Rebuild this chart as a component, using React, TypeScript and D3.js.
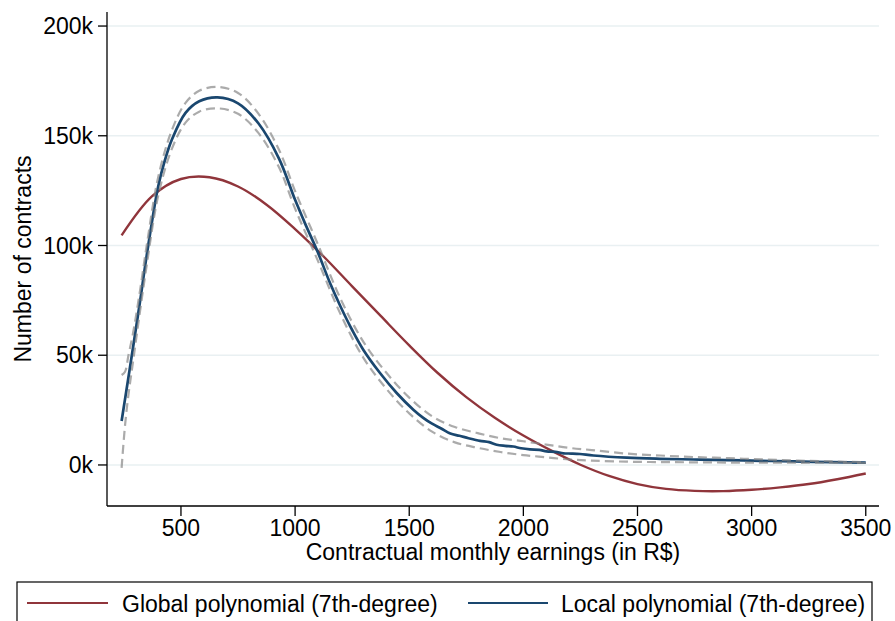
import React from "react";
import * as d3 from "d3";

// ---- Data ----
const globalX = [240, 375, 500, 625, 750, 875, 1000, 1125, 1250, 1375, 1500, 1625, 1750, 1875, 2000, 2125, 2250, 2375, 2500, 2625, 2750, 2875, 3000, 3125, 3250, 3375, 3500];
const globalY = [104.6, 122.6, 130.3, 131.1, 126.9, 118.6, 107.5, 95.0, 81.4, 67.9, 54.5, 41.9, 30.9, 21.5, 13.4, 6.4, 0.1, -5.0, -8.7, -10.9, -11.8, -11.9, -11.3, -10.2, -8.7, -6.5, -3.9];

const localX = [240, 255, 270, 290, 320, 350, 400, 430, 460, 520, 580, 660, 750, 840, 930, 1000, 1043, 1100, 1153, 1200, 1250, 1300, 1372, 1445, 1518, 1560, 1600, 1640, 1680, 1720, 1760, 1810, 1850, 1883, 1920, 1956, 1990, 2029, 2070, 2102, 2140, 2175, 2210, 2248, 2307, 2453, 2599, 2745, 2891, 3037, 3183, 3350, 3500];
const localY = [20, 30, 40, 53.5, 74, 95.5, 126.8, 139, 148.2, 160.4, 165.7, 167.5, 164.8, 155.6, 139.5, 120.8, 110.2, 96.8, 82.9, 72, 61.5, 52.3, 41.9, 32.8, 25.2, 21.6, 18.8, 16.6, 14.3, 13.3, 12.2, 11.0, 10.4, 9.2, 8.7, 8.4, 7.6, 7.1, 6.9, 6.2, 6.0, 5.3, 5.2, 5.0, 4.3, 3.3, 2.8, 2.5, 2.2, 1.9, 1.6, 1.3, 1.1];

const ciX = [240, 255, 270, 290, 320, 350, 400, 460, 520, 580, 660, 750, 840, 930, 1000, 1100, 1200, 1300, 1400, 1500, 1600, 1700, 1800, 1900, 2000, 2100, 2200, 2300, 2450, 2600, 2750, 2900, 3050, 3200, 3350, 3500];
const ciUpper = [41, 42.5, 50, 60, 79, 100, 131, 152.5, 165, 170.5, 172.3, 169.5, 160, 143.5, 124.8, 100.5, 75.5, 56, 42, 30.7, 22.2, 17.3, 14.5, 12.2, 10.8, 9.3, 7.8, 6.8, 5.2, 4.3, 3.6, 3.1, 2.5, 2.0, 1.6, 1.3];
const ciLower = [-1.3, 18, 32, 47, 69.5, 91, 122.5, 144, 156, 161, 162.5, 160, 151.2, 135.5, 116.8, 93, 68.5, 48.7, 34.7, 23.5, 15.2, 10.3, 7.8, 5.9, 4.5, 3.5, 2.5, 2.0, 1.5, 1.3, 1.2, 1.1, 1.1, 1.0, 1.0, 0.9];

const xTicks = [500, 1000, 1500, 2000, 2500, 3000, 3500];
const yTicks = [0, 50, 100, 150, 200];
const yTickLabels = ["0k", "50k", "100k", "150k", "200k"];

const legendLabels = ["Global polynomial (7th-degree)", "Local polynomial (7th-degree)"];

const RED = "#90353b";
const NAVY = "#1a476f";
const FONT = "'Liberation Sans', Arial, Helvetica, sans-serif";

export default function App() {
  const W = 895, H = 621;
  const left = 107, right = 879, top = 12, bottom = 506;

  const x = d3.scaleLinear().domain([176, 3558]).range([left, right]);
  const y = d3.scaleLinear().domain([-18.7, 206.4]).range([bottom, top]);

  const line = d3
    .line<[number, number]>()
    .x((d) => x(d[0]))
    .y((d) => y(d[1]))
    .curve(d3.curveCatmullRom.alpha(0.5));

  const zip = (xs: number[], ys: number[]) => xs.map((v, i) => [v, ys[i]] as [number, number]);

  const gPath = line(zip(globalX, globalY)) || "";
  const lPath = line(zip(localX, localY)) || "";
  const uPath = line(zip(ciX, ciUpper)) || "";
  const loPath = line(zip(ciX, ciLower)) || "";

  return (
    <svg
      width={W}
      height={H}
      style={{ position: "absolute", left: 0, top: 0, background: "#fff" }}
      fontFamily={FONT}
    >
      <rect x={0} y={0} width={W} height={H} fill="#fff" />
      {/* gridlines */}
      {yTicks.map((t) => (
        <line key={"g" + t} x1={left} x2={right} y1={y(t)} y2={y(t)} stroke="#e9f0f2" strokeWidth={1.6} />
      ))}
      {/* axes */}
      <line x1={left} x2={left} y1={top} y2={bottom} stroke="#000" strokeWidth={1.3} />
      <line x1={left} x2={right} y1={bottom} y2={bottom} stroke="#000" strokeWidth={1.3} />
      {yTicks.map((t, i) => (
        <g key={"yt" + t}>
          <line x1={left - 9} x2={left} y1={y(t)} y2={y(t)} stroke="#000" strokeWidth={1.3} />
          <text x={93} y={y(t)} dy="0.35em" textAnchor="end" fontSize={23} fill="#000">
            {yTickLabels[i]}
          </text>
        </g>
      ))}
      {xTicks.map((t) => (
        <g key={"xt" + t}>
          <line x1={x(t)} x2={x(t)} y1={bottom} y2={bottom + 10} stroke="#000" strokeWidth={1.3} />
          <text x={x(t)} y={536} textAnchor="middle" fontSize={23} fill="#000">
            {t}
          </text>
        </g>
      ))}
      <text x={(left + right) / 2} y={560} textAnchor="middle" fontSize={23} fill="#000">
        Contractual monthly earnings (in R$)
      </text>
      <text transform={`translate(31,${(top + bottom) / 2}) rotate(-90)`} textAnchor="middle" fontSize={23} fill="#000">
        Number of contracts
      </text>

      {/* series */}
      <path d={gPath} fill="none" stroke={RED} strokeWidth={2.4} />
      <path d={lPath} fill="none" stroke={NAVY} strokeWidth={2.7} />
      <path d={uPath} fill="none" stroke="#888" strokeOpacity={0.7} strokeWidth={2.2} strokeDasharray="9 5" />
      <path d={loPath} fill="none" stroke="#888" strokeOpacity={0.7} strokeWidth={2.2} strokeDasharray="9 5" />

      {/* legend */}
      <rect x={17} y={582} width={855} height={60} fill="none" stroke="#000" strokeWidth={1.2} />
      <line x1={27} x2={108} y1={603} y2={603} stroke={RED} strokeWidth={2} />
      <text x={122} y={612} fontSize={23} fill="#000">{legendLabels[0]}</text>
      <line x1={468} x2={548} y1={603} y2={603} stroke={NAVY} strokeWidth={2} />
      <text x={561} y={612} fontSize={23} fill="#000">{legendLabels[1]}</text>
    </svg>
  );
}
